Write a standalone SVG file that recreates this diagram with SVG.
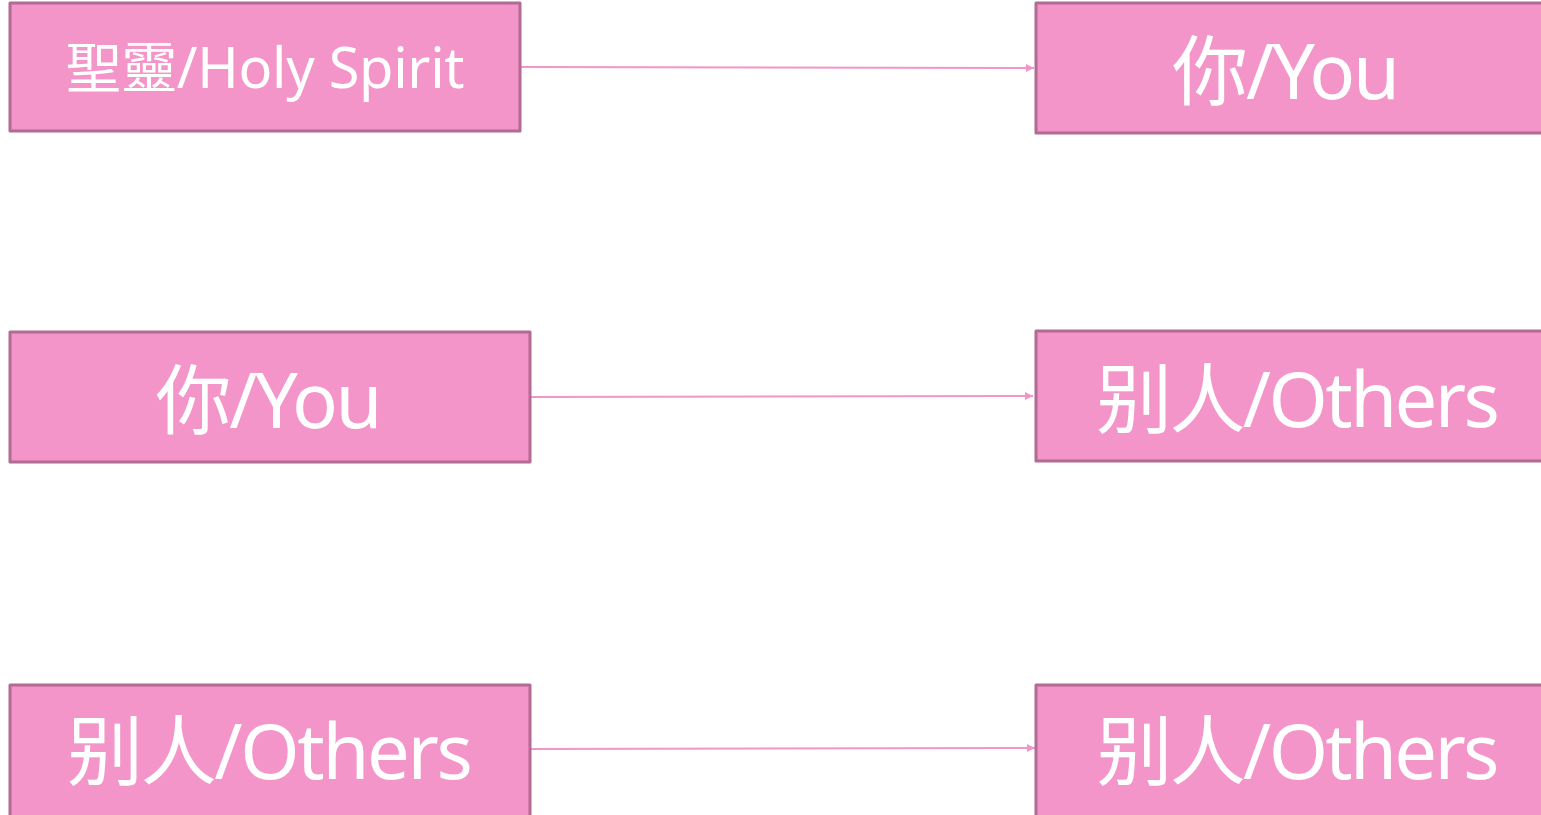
<svg xmlns="http://www.w3.org/2000/svg" width="1541" height="815" viewBox="0 0 1541 815">
<defs>
<style>
.box{fill:#F395C9;stroke:#B26B93;stroke-width:3;stroke-linejoin:round}
.lbl{fill:#FFFFFF;font-family:"Noto Sans","Noto Sans CJK TC",sans-serif;text-anchor:middle}
.edge{stroke:#F395C9;stroke-width:2;fill:none}
</style>
<marker id="arr" viewBox="0 0 10 10" refX="10" refY="5" markerWidth="10" markerHeight="8" markerUnits="userSpaceOnUse" orient="auto">
<path d="M0,0 L10,5 L0,10 z" fill="#F395C9"/>
</marker>
</defs>
<rect width="1541" height="815" fill="#FFFFFF"/>
<g id="connectors">
<line class="edge" x1="521" y1="67" x2="1034" y2="68" marker-end="url(#arr)"/>
<line class="edge" x1="531" y1="397" x2="1033" y2="396" marker-end="url(#arr)"/>
<line class="edge" x1="531" y1="749" x2="1035" y2="748" marker-end="url(#arr)"/>
</g>
<g id="node-holyspirit">
<rect class="box" x="10" y="3" width="510" height="128"/>
<text class="lbl" x="265" y="88" font-size="56" textLength="399" lengthAdjust="spacing">聖靈/Holy Spirit</text>
</g>
<g id="node-you-right">
<rect class="box" x="1036" y="3" width="520" height="130"/>
<text class="lbl" x="1286" y="99" font-size="76" textLength="228" lengthAdjust="spacing">你/You</text>
</g>
<g id="node-you-left">
<rect class="box" x="10" y="332" width="520" height="130"/>
<text class="lbl" x="269" y="428" font-size="76" textLength="227" lengthAdjust="spacing">你/You</text>
</g>
<g id="node-others-right1">
<rect class="box" x="1036" y="331" width="520" height="130"/>
<text class="lbl" x="1298" y="427" font-size="76" textLength="404" lengthAdjust="spacing">别人/Others</text>
</g>
<g id="node-others-left">
<rect class="box" x="10" y="685" width="520" height="132"/>
<text class="lbl" x="270" y="779" font-size="76" textLength="406" lengthAdjust="spacing">别人/Others</text>
</g>
<g id="node-others-right2">
<rect class="box" x="1036" y="685" width="520" height="132"/>
<text class="lbl" x="1298" y="779" font-size="76" textLength="403" lengthAdjust="spacing">别人/Others</text>
</g>
</svg>
